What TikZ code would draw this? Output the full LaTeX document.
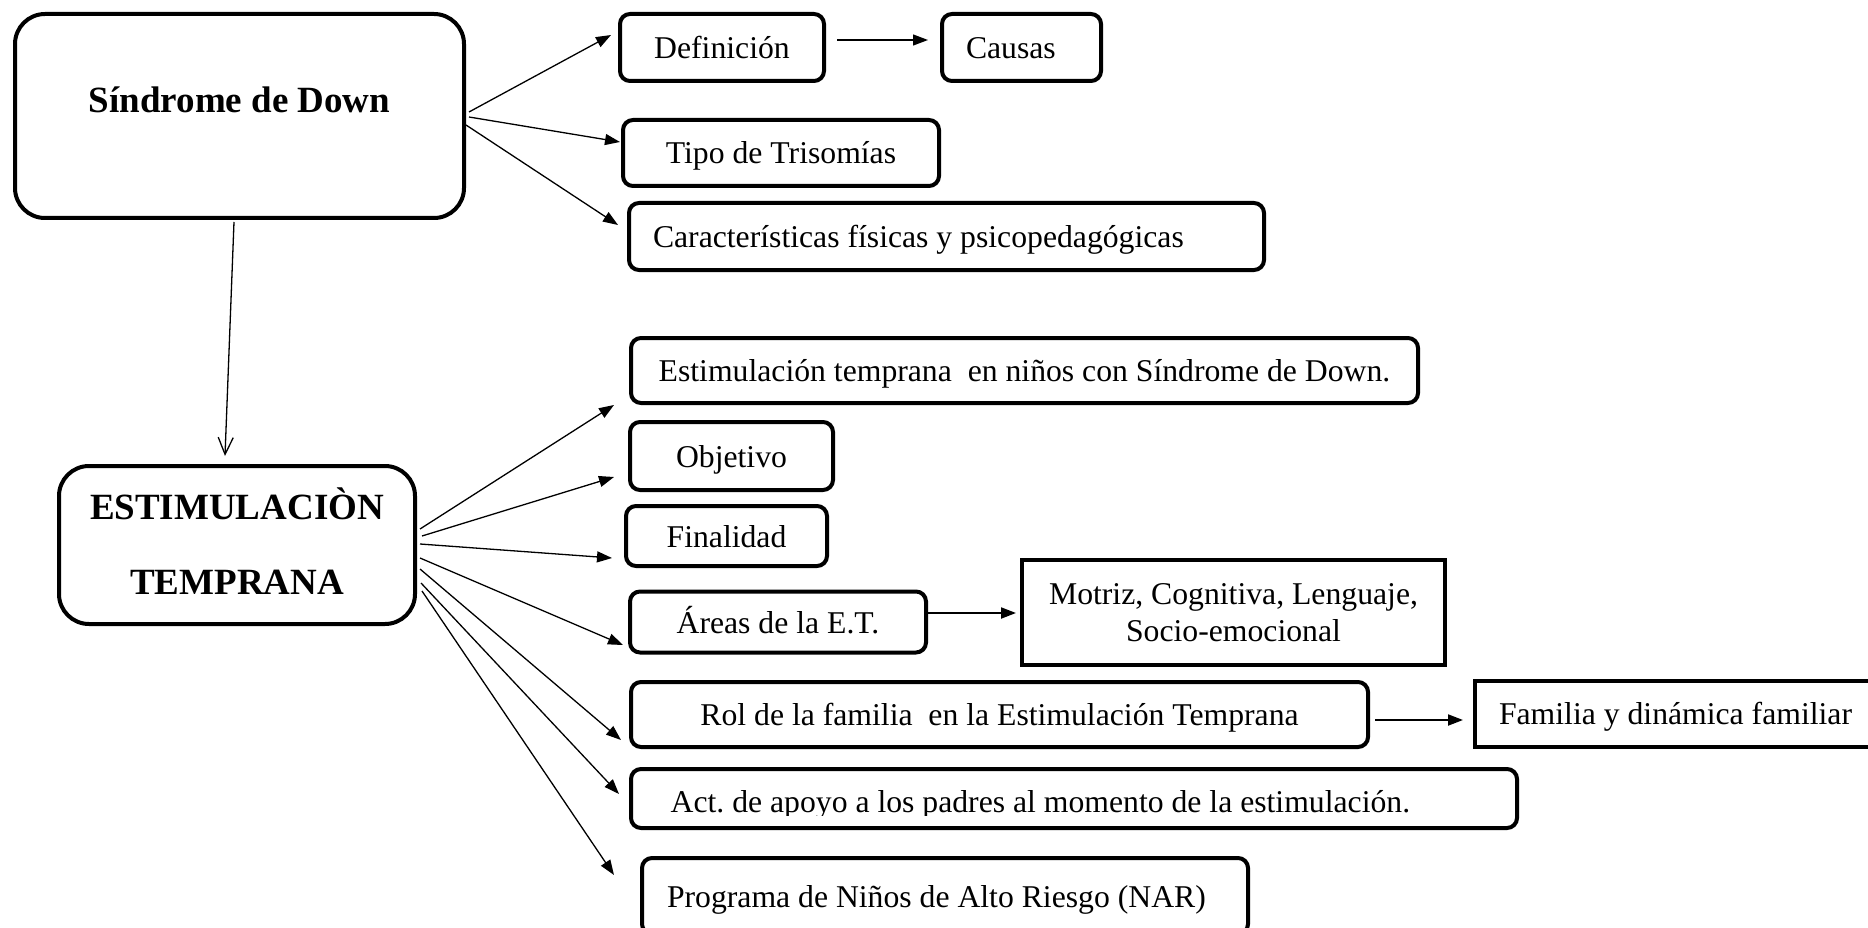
\documentclass[tikz,border=0pt]{standalone}
\usepackage{fontspec}
\setmainfont{Liberation Serif}
\frenchspacing
\usetikzlibrary{positioning,arrows.meta}

\begin{document}
\begin{tikzpicture}[
		x=1pt, y=-1pt, line width=1.3pt,
		>={Triangle[length=15pt,width=11pt]},
		every node/.style = {font=\fontsize{31.7}{37}\selectfont},
		main/.style = {draw, line width=4pt, rounded corners=10pt, inner sep=0pt, text height=27pt, text depth=5pt},
		flat/.style = {draw, line width=4pt, inner sep=0pt},
		head/.style = {draw, line width=4pt, rounded corners=30pt, inner sep=0pt, font=\fontsize{37}{75}\selectfont\bfseries}
	]
	\clip (0,0) rectangle (1868,928);
	% Sindrome de Down.
	\node[head, minimum width=449pt, text height=99pt, text depth=105pt] (sd) at (239.5,116) {Síndrome de Down};
	\node[main, minimum width=204pt, minimum height=67pt] (def) at (722,47.5) {Definición};
	\node[main, align=flush left, text width=111pt, inner xsep=24pt, minimum height=67pt] (cau) at (1021.5,47.5) {Causas};
	\node[main, minimum width=316pt, minimum height=66pt] (tip) at (781,153) {Tipo de Trisomías};
	\node[main, align=flush left, text width=587pt, inner xsep=24pt, minimum height=67pt] (car) at (946.5,236.5) {Características físicas y psicopedagógicas};
	% Estimulacion temprana.
	\node[head, align=center, text depth=7pt, minimum width=356pt, minimum height=158pt] (et) at (237,545) {ESTIMULACIÒN\\TEMPRANA};
	\node[main, minimum width=787pt, minimum height=65pt] (est) at (1024.5,370.5) {Estimulación temprana\ \ en niños con Síndrome de Down.};
	\node[main, minimum width=203pt, minimum height=68pt] (obj) at (731.5,456) {Objetivo};
	\node[main, minimum width=201pt, minimum height=60pt] (fin) at (726.5,536) {Finalidad};
	\node[main, minimum width=296pt, minimum height=61pt] (are) at (778,622) {Áreas de la E.T.};
	\node[flat, align=center, minimum width=423pt, minimum height=105pt] (mot) at (1233.5,612.5) {Motriz, Cognitiva, Lenguaje,\\Socio-emocional};
	\node[main, minimum width=737pt, minimum height=65pt] (rol) at (999.5,714.5) {Rol de la familia\ \ en la Estimulación Temprana};
	\node[flat, align=flush left, text width=380pt, inner xsep=24pt, text height=27pt, text depth=5pt, minimum height=66pt, anchor=west] (fam) at (1473,713.5) {Familia y dinámica familiar};
	\node[main, minimum width=886pt, minimum height=59pt] (act) at (1074,798.5) {};
	\begin{scope}
		\clip (act.north west) rectangle ([yshift=15pt]act.south east);
		\node[anchor=base west, inner sep=0pt] (apoyo) at ([shift={(41,13.5)}]act.west) {Act. de apoyo a los padres al momento de la estimulación.};
	\end{scope}
	\node[main, align=flush left, text width=556pt, inner xsep=25pt, minimum height=76pt] (pro) at (945,896) {Programa de Niños de Alto Riesgo (NAR)};
	
	\draw[->] ([shift={(3,-4)}]sd.east) to ([shift={(-7,-12.5)}]def.west);
	\draw[->] ([shift={(3,1)}]sd.east) to ([shift={(-1,-11)}]tip.west);
	\draw[->] ([shift={(0,9)}]sd.east) to ([shift={(-9,-11.5)}]car.west);
	\draw[-{Straight Barb[length=17pt,width=15pt]}] ([shift={(-5.5,2)}]sd.south) to ([shift={(-12,-8)}]et.north);
	\draw[->] ([shift={(11,-7.5)}]def.east) to ([shift={(-12,-7.5)}]cau.west);
	\draw[->] ([shift={(3,-16)}]et.east) to ([shift={(-15,34.5)}]est.west);
	\draw[->] ([shift={(5,-9)}]et.east) to ([shift={(-14,21)}]obj.west);
	\draw[->] ([shift={(3,-1)}]et.east) to ([shift={(-12,22)}]fin.west);
	\draw[->] ([shift={(3,13)}]et.east) to ([shift={(-5,23)}]are.west);
	\draw[->] ([shift={(3,24)}]et.east) to ([shift={(-8,25.5)}]rol.west);
	\draw[->] ([shift={(4,38)}]et.east) to ([shift={(-10,-4.5)}]act.west);
	\draw[->] ([shift={(5,46)}]et.east) to ([shift={(-26,-21)}]pro.west);
	\draw[->, line width=2pt] ([shift={(-1,-9)}]are.east) to ([shift={(-4,0.5)}]mot.west);
	\draw[->, line width=2pt] ([shift={(5,5.5)}]rol.east) to ([shift={(-10,6.5)}]fam.west);
\end{tikzpicture}
\end{document}
